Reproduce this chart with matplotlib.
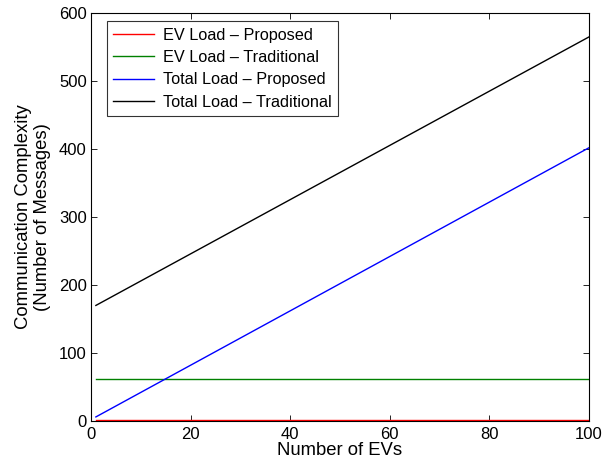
import matplotlib
matplotlib.use("Agg")
import matplotlib.pyplot as plt

plt.rcParams['font.family'] = ['Liberation Sans', 'DejaVu Sans']

# Data (straight lines: values at the end points)
num_evs = [1, 100]
ev_load_proposed = [1, 1]
ev_load_traditional = [62, 62]
total_load_proposed = [6, 402]
total_load_traditional = [170, 565]

labels = ["EV Load \u2013 Proposed", "EV Load \u2013 Traditional",
          "Total Load \u2013 Proposed", "Total Load \u2013 Traditional"]
colors = ["#ff0000", "#008000", "#0000ff", "#000000"]

TICK_FS = 12
LABEL_FS = 13.3
LEG_FS = 11.7

fig = plt.figure(figsize=(6.06, 4.63), dpi=100)
ax = fig.add_axes([0.150, 0.0907, 0.822, 0.881])

series = [ev_load_proposed, ev_load_traditional, total_load_proposed, total_load_traditional]
for vals, lab, col in zip(series, labels, colors):
    ax.plot(num_evs, vals, color=col, lw=1.0, label=lab)

ax.set_xlim(0, 100)
ax.set_ylim(0, 600)
ax.set_xticks([0, 20, 40, 60, 80, 100])
ax.set_yticks([0, 100, 200, 300, 400, 500, 600])
ax.tick_params(direction='in', top=True, right=True, labelsize=TICK_FS, length=4, width=0.6)
ax.tick_params(axis='x', pad=4.5)
ax.tick_params(axis='y', pad=3)
for s in ax.spines.values():
    s.set_linewidth(0.8)

ax.set_xlabel("Number of EVs", fontsize=LABEL_FS, labelpad=0)
ax.set_ylabel("Communication Complexity\n(Number of Messages)", fontsize=LABEL_FS, labelpad=6,
              linespacing=1.1)

leg = ax.legend(loc='upper left', fontsize=LEG_FS, frameon=True, fancybox=False,
                edgecolor='black', borderpad=0.4, labelspacing=0.45,
                handlelength=2.5, handletextpad=0.55, borderaxespad=0,
                bbox_to_anchor=(0.032, 0.980))
leg.get_frame().set_linewidth(0.8)

fig.savefig("out.png", dpi=100)
